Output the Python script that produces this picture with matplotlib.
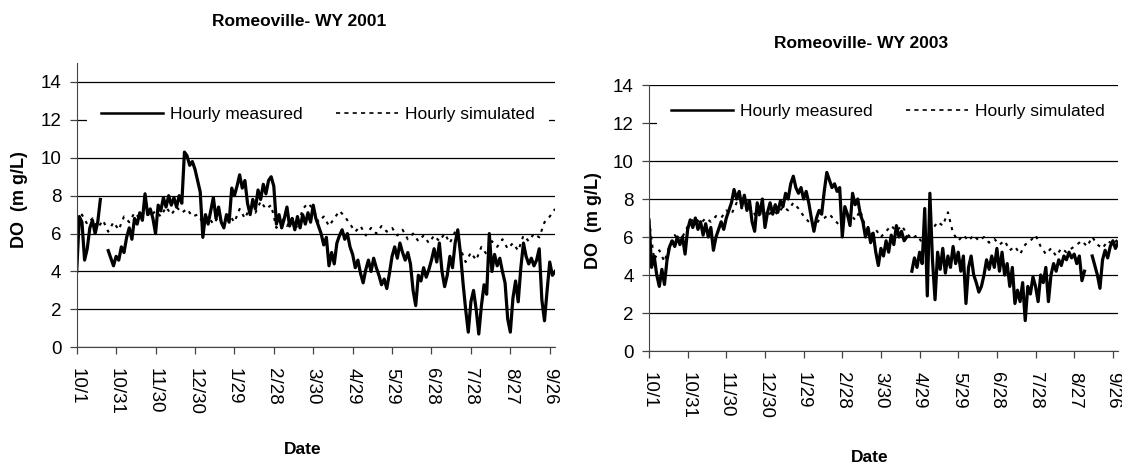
import numpy as np
import pandas as pd
import matplotlib
matplotlib.use('Agg')
import matplotlib.pyplot as plt

plt.rcParams['font.family'] = ['Liberation Sans', 'DejaVu Sans']

nan = np.nan

# Romeoville DO, water year 2001 (from 10/1/2000), measured every 2 days, simulated every 4 days
do_meas_2001 = [
    4.0, 6.9, 6.6, 4.6, 5.2, 6.3, 6.7, 6.0, 6.6, 7.8, nan, nan, 5.1, 4.7, 4.3, 4.8, 4.6, 5.3, 5.0, 5.8,
    6.3, 5.7, 6.8, 6.5, 7.1, 6.7, 8.1, 7.0, 7.3, 6.8, 6.0, 7.5, 7.2, 7.9, 7.4, 8.0, 7.5, 7.9, 7.4, 8.0,
    7.6, 10.3, 10.1, 9.6, 9.8, 9.4, 8.8, 8.2, 5.8, 7.0, 6.5, 7.2, 7.9, 6.8, 7.4, 6.6, 6.3, 7.0, 6.6, 8.4,
    8.0, 8.5, 9.1, 8.4, 8.8, 7.6, 7.0, 7.8, 7.3, 8.3, 7.8, 8.6, 8.1, 8.8, 9.0, 8.5, 6.5, 7.0, 6.3, 6.8,
    7.4, 6.4, 6.8, 6.2, 6.9, 6.3, 7.0, 6.5, 7.1, 6.6, 7.5, 6.8, 6.4, 6.0, 5.4, 5.8, 4.3, 5.0, 4.4, 5.5,
    5.9, 6.2, 5.7, 6.0, 5.3, 4.9, 4.2, 4.6, 3.9, 3.4, 4.1, 4.6, 4.0, 4.7, 4.2, 3.8, 3.3, 3.6, 3.1, 3.9,
    4.8, 5.3, 4.7, 5.5, 5.0, 4.6, 5.0, 4.4, 3.0, 2.2, 3.8, 3.5, 4.2, 3.7, 4.1, 4.6, 5.2, 4.5, 5.5, 4.0,
    3.2, 3.8, 4.8, 4.2, 5.5, 6.2, 5.0, 3.4, 2.0, 0.8, 2.4, 3.0, 2.0, 0.7, 2.2, 3.3, 2.8, 6.0, 4.0, 4.9,
    4.3, 4.7, 4.0, 3.4, 1.5, 0.8, 2.6, 3.5, 2.4, 4.2, 5.5, 4.8, 4.4, 4.7, 4.3, 4.6, 5.2, 2.5, 1.4, 3.0,
    4.5, 3.8, 4.0,
]
do_sim_2001 = [
    6.6, 7.0, 6.5, 6.8, 6.3, 6.7, 6.1, 6.6, 6.2, 6.9, 6.6, 7.1, 6.8, 7.2, 6.9, 7.2, 6.9, 7.4, 7.0, 7.4,
    7.1, 7.3, 6.9, 7.0, 6.6, 6.9, 6.5, 6.9, 6.4, 7.0, 6.6, 7.3, 6.8, 7.4, 7.1, 7.7, 7.3, 7.5, 6.3, 6.9,
    6.4, 6.8, 6.3, 7.3, 7.6, 7.3, 6.6, 6.9, 6.4, 6.8, 7.2, 6.9, 6.5, 6.1, 6.4, 5.9, 6.3, 6.0, 6.4, 6.1,
    6.3, 5.9, 6.2, 5.7, 6.0, 5.6, 5.9, 5.5, 5.9, 5.6, 6.0, 5.5, 6.1, 5.2, 4.5, 5.0, 4.6, 5.3, 4.9, 5.6,
    5.3, 5.7, 5.2, 5.5, 5.1, 5.9, 5.6, 6.0, 5.8, 6.6, 6.9, 7.3,
]

# water year 2003 (from 10/1/2002)
do_meas_2003 = [
    6.9, 4.4, 5.0, 4.0, 3.4, 4.3, 3.5, 4.8, 5.5, 5.8, 5.5, 6.0, 5.6, 6.0, 5.1, 6.4, 6.9, 6.5, 7.0, 6.4,
    6.8, 6.1, 6.7, 6.0, 6.5, 5.3, 6.0, 6.4, 6.8, 6.4, 7.0, 7.4, 7.8, 8.5, 8.0, 8.4, 7.6, 8.2, 7.4, 7.9,
    6.8, 6.3, 7.8, 7.2, 8.0, 6.5, 7.3, 7.8, 7.2, 7.7, 7.3, 7.9, 7.6, 8.3, 8.0, 8.8, 9.2, 8.6, 8.3, 8.6,
    8.0, 8.4, 7.8, 7.0, 6.3, 7.0, 7.4, 7.2, 8.4, 9.4, 9.0, 8.6, 8.8, 8.4, 8.6, 6.0, 7.6, 7.2, 6.6, 8.3,
    7.7, 8.0, 7.2, 6.8, 6.0, 6.5, 5.7, 6.2, 5.2, 4.5, 5.4, 5.0, 5.8, 5.2, 6.1, 5.6, 6.6, 6.0, 6.3, 5.8,
    6.0, nan, 4.2, 4.9, 4.4, 5.2, 4.6, 7.5, 2.9, 8.3, 4.8, 2.7, 5.2, 4.3, 5.4, 4.1, 5.0, 4.4, 5.5, 4.6,
    5.2, 4.2, 5.0, 2.5, 4.4, 5.0, 4.0, 3.6, 3.1, 3.4, 4.0, 4.8, 4.3, 5.0, 4.4, 5.4, 4.2, 5.2, 4.0, 4.6,
    3.4, 4.4, 2.5, 3.2, 2.6, 3.6, 1.6, 3.4, 3.0, 3.9, 3.4, 2.6, 4.0, 3.6, 4.4, 2.6, 4.0, 4.6, 4.2, 4.8,
    4.5, 5.0, 4.8, 5.2, 4.9, 5.1, 4.6, 5.0, 3.7, 4.2, nan, nan, 5.0, 4.5, 4.0, 3.3, 4.8, 5.3, 4.9, 5.5,
    5.8, 5.4, 5.7,
]
do_sim_2003 = [
    6.9, 4.8, 5.3, 4.7, 5.6, 6.1, 5.7, 6.3, 6.8, 7.0, 6.7, 7.0, 6.8, 7.1, 7.0, 7.4, 7.2, 7.8, 7.5, 7.9,
    7.4, 7.0, 7.4, 7.1, 7.4, 7.2, 7.6, 7.4, 7.8, 7.5, 7.1, 6.8, 6.5, 6.9, 7.0, 7.2, 6.9, 6.6, 6.9, 7.2,
    6.9, 7.4, 6.5, 6.1, 6.4, 6.0, 6.3, 6.6, 6.3, 6.6, 6.2, 5.9, 6.1, 5.7, 6.0, 6.4, 6.8, 6.6, 7.3, 6.2,
    5.8, 6.1, 5.8, 6.1, 5.8, 6.0, 5.7, 5.9, 5.6, 5.8, 5.3, 5.5, 5.1, 5.6, 5.8, 6.1, 5.5, 5.1, 5.4, 5.0,
    5.4, 5.2, 5.4, 5.6, 5.8, 5.5, 6.0, 5.6, 5.4, 5.8, 5.6, 5.9,
]

years = [
    ('2000-10-01', do_meas_2001, do_sim_2001, 'Romeoville- WY 2001', 15),
    ('2002-10-01', do_meas_2003, do_sim_2003, 'Romeoville- WY 2003', 14),
]

W, H = 1122, 467
fig = plt.figure(figsize=(W / 100, H / 100), dpi=100)

# axes boxes in pixels: left, right, y of 0, top of y axis
boxes = [(76.7, 555, 347.3, 63), (649, 1118, 351, 85)]
title_pos = [(299, 22), (861, 43)]
xlabel_pos = [(303, 450), (870, 457)]
ylabel_pos = [(20, 200), (593, 221)]
leg_x = [0.021, 0.0165]
leg_y = [12.3, 12.6]

for i, (start, meas, sim, title, ytop) in enumerate(years):
    l, r, b, t = boxes[i]
    ax = fig.add_axes([l / W, (H - b) / H, (r - l) / W, (b - t) / H])

    t0 = pd.Timestamp(start)
    x_meas = pd.date_range(t0, periods=len(meas), freq='2D')
    x_sim = pd.date_range(t0, periods=len(sim), freq='4D')

    ax.set_yticks(range(0, 15, 2))
    ax.yaxis.grid(True, color='black', linewidth=0.9)
    ax.set_axisbelow(True)

    ax.plot(x_meas, meas, color='black', lw=2.3)
    ax.plot(x_sim, sim, color='black', lw=1.5, linestyle=(0, (1.5, 2.5)))

    ax.set_xlim(t0, t0 + pd.Timedelta(days=364))
    ax.set_ylim(0, ytop)

    ticks = pd.date_range(t0, periods=13, freq='30D')
    ax.set_xticks(ticks)
    ax.set_xticklabels([f'{d.month}/{d.day}' for d in ticks], rotation=270)

    for side in ('top', 'right'):
        ax.spines[side].set_visible(False)
    ax.spines['left'].set_color('#444444')
    ax.spines['bottom'].set_color('#444444')
    ax.tick_params(axis='both', direction='out', length=5, width=0.9, color='#444444',
                   labelsize=13.5)
    ax.tick_params(axis='x', pad=10)
    ax.tick_params(axis='y', pad=6)

    # legend sample lines drawn with a plain width so they stay thin like the key
    h_meas = plt.Line2D([], [], color='black', lw=1.8)
    h_sim = plt.Line2D([], [], color='black', lw=1.2, linestyle=(0, (2.5, 2.5)))
    leg = ax.legend([h_meas, h_sim], ['Hourly measured', 'Hourly simulated'], ncol=2,
                    loc='center left', bbox_to_anchor=(leg_x[i], leg_y[i]),
                    bbox_transform=ax.get_yaxis_transform(),
                    frameon=True, fancybox=False, framealpha=1, facecolor='white',
                    edgecolor='none', fontsize=12.5, handlelength=3.6, handletextpad=0.4,
                    columnspacing=1.9, borderpad=0.8, borderaxespad=0)
    leg.set_zorder(5)

    tx, ty = title_pos[i]
    fig.text(tx / W, 1 - ty / H, title, ha='center', va='center', fontsize=12.5,
             fontweight='bold')
    xx, xy = xlabel_pos[i]
    fig.text(xx / W, 1 - xy / H, 'Date', ha='center', va='center', fontsize=12.5,
             fontweight='bold')
    yx, yy = ylabel_pos[i]
    fig.text(yx / W, 1 - yy / H, 'DO  (m g/L)', ha='center', va='center', fontsize=13,
             fontweight='bold', rotation=90)

fig.savefig('out.png', dpi=100, facecolor='white')
